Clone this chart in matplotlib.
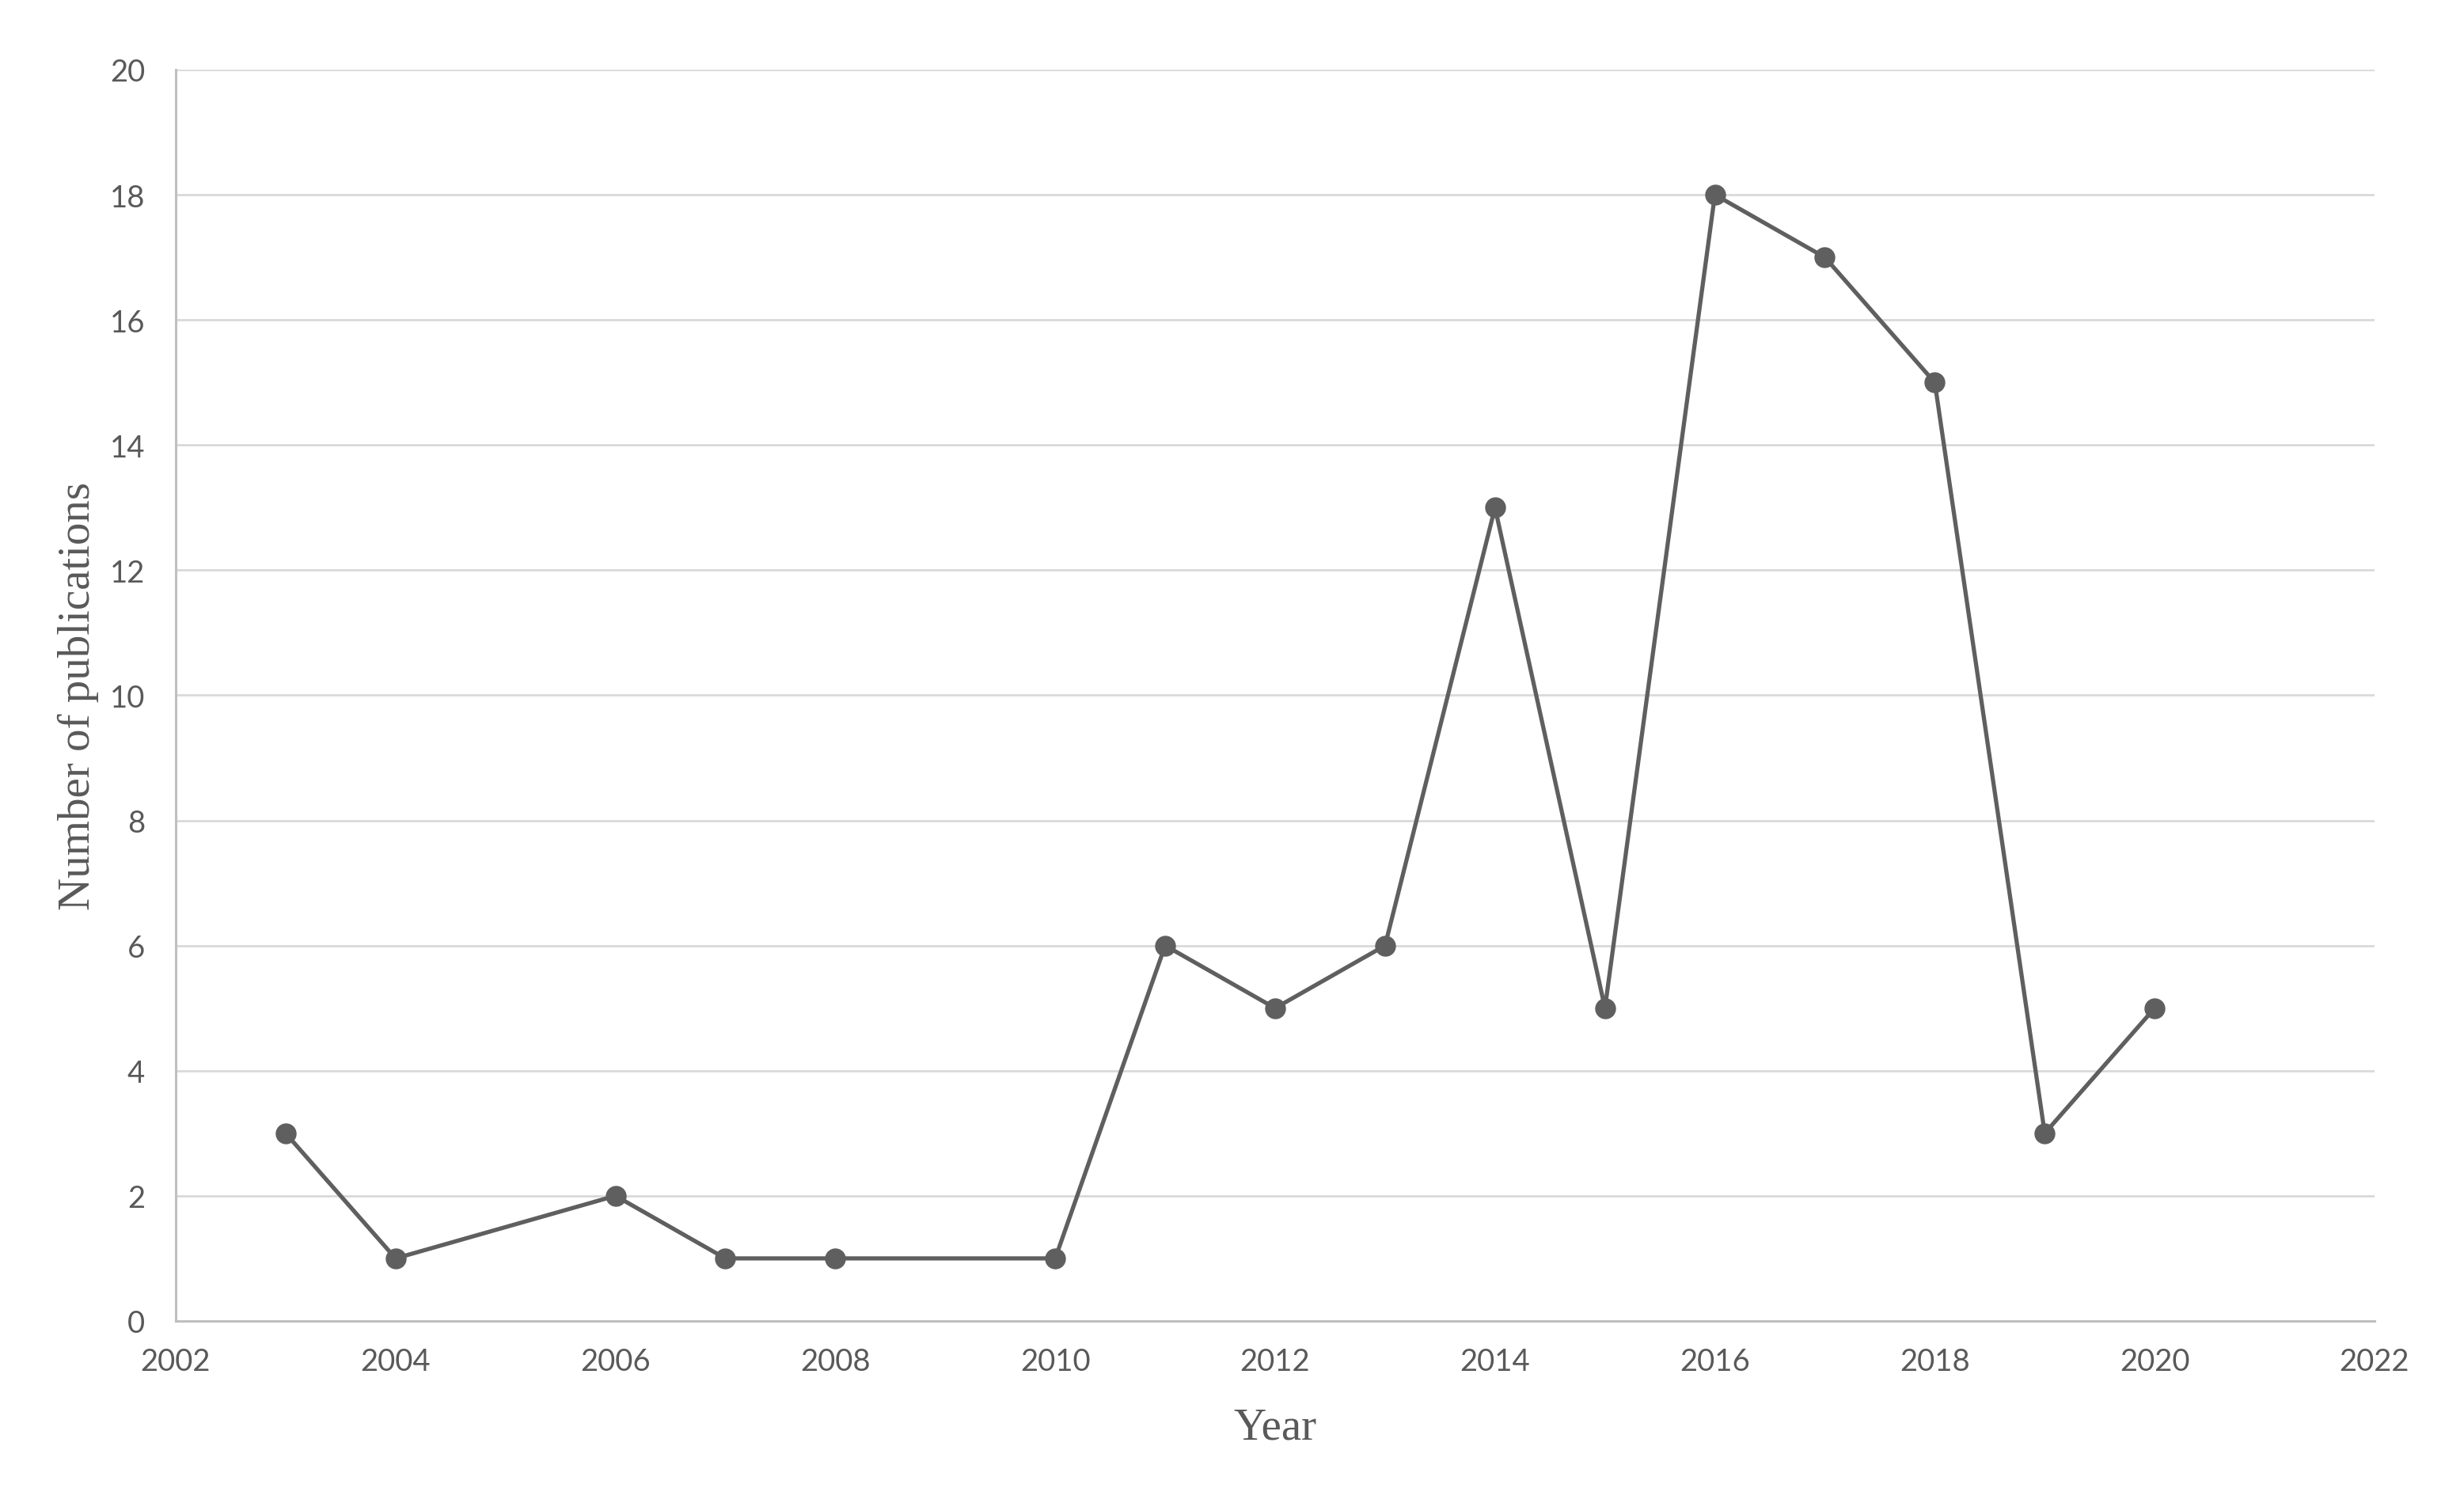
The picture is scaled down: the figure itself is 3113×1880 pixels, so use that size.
import matplotlib
matplotlib.use("Agg")
import matplotlib.pyplot as plt

years = [2003, 2004, 2006, 2007, 2008, 2010, 2011, 2012, 2013, 2014, 2015, 2016, 2017, 2018, 2019, 2020]
publications = [3, 1, 2, 1, 1, 1, 6, 5, 6, 13, 5, 18, 17, 15, 3, 5]
x_ticks = list(range(2002, 2023, 2))
y_ticks = list(range(0, 21, 2))

fig = plt.figure(figsize=(31.13, 18.81), dpi=100)
ax = fig.add_axes([0.0713, 0.1122, 0.9637 - 0.0713, 0.9527 - 0.1122])

ax.plot(years, publications, color="#5f5f5f", linewidth=3.8, marker="o",
        markersize=18, markerfacecolor="#5f5f5f", markeredgecolor="#5f5f5f",
        zorder=3, clip_on=False)

ax.set_xlim(2002, 2022)
ax.set_ylim(0, 20)
ax.set_xticks(x_ticks)
ax.set_yticks(y_ticks)

tick_font = ["Lato", "DejaVu Sans"]
for lab in ax.get_xticklabels() + ax.get_yticklabels():
    lab.set_fontfamily(tick_font)
    lab.set_fontsize(27.5)
    lab.set_color("#595959")

ax.tick_params(axis="both", length=0)
ax.tick_params(axis="x", pad=24)
ax.tick_params(axis="y", pad=28)

ax.yaxis.grid(True, color="#d9d9d9", linewidth=2)
ax.set_axisbelow(True)
for s in ["top", "right"]:
    ax.spines[s].set_visible(False)
for s in ["left", "bottom"]:
    ax.spines[s].set_color("#bfbfbf")
    ax.spines[s].set_linewidth(2.2)

ax.set_xlabel("Year", fontfamily="Liberation Serif", fontsize=41, color="#595959", labelpad=28)
ax.set_ylabel("Number of publications", fontfamily="Liberation Serif", fontsize=41, color="#595959", labelpad=10)

fig.savefig("out.png", dpi=100, facecolor="white")
